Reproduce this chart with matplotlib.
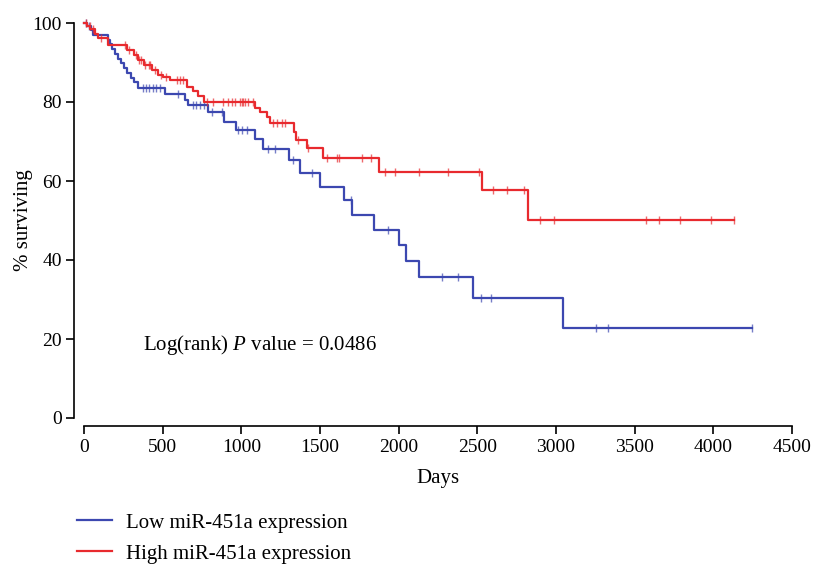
import numpy as np
import matplotlib.pyplot as plt

plt.rcParams['font.family'] = ['Liberation Serif', 'DejaVu Serif']
plt.rcParams['mathtext.fontset'] = 'custom'
plt.rcParams['mathtext.rm'] = 'Liberation Serif'
plt.rcParams['mathtext.it'] = 'Liberation Serif:italic'

# Kaplan-Meier steps: (day, % surviving after the drop)
low_times = [20, 45, 60, 150, 165, 180, 200, 215, 235, 255, 275, 300, 320, 345,
             515, 640, 660, 785, 890, 965, 1085, 1140, 1300, 1375, 1500, 1655,
             1705, 1843, 2002, 2047, 2130, 2473, 3045]
low_surv = [99.2, 98.3, 97.0, 95.8, 94.6, 93.4, 92.2, 91.0, 89.8, 88.6, 87.4, 86.2,
            85.0, 83.6, 82.0, 80.6, 79.2, 77.5, 75.0, 73.0, 70.6, 68.0, 65.2, 62.0,
            58.5, 55.2, 51.4, 47.6, 43.8, 39.7, 35.7, 30.4, 22.8]
low_censor = [15, 30, 375, 395, 415, 440, 460, 480, 597, 695, 715, 740, 765, 814,
              877, 979, 1004, 1036, 1170, 1214, 1330, 1450, 1697, 1930, 2275, 2377,
              2524, 2587, 3254, 3331, 4246]

high_times = [20, 40, 70, 90, 150, 275, 315, 345, 380, 435, 470, 500, 545, 655,
              690, 725, 760, 1087, 1119, 1163, 1182, 1335, 1348, 1417, 1519, 1875,
              2530, 2822]
high_surv = [99.2, 98.4, 97.2, 96.2, 94.5, 93.2, 91.9, 90.6, 89.4, 88.1, 86.9, 86.3,
             85.6, 83.8, 82.8, 81.5, 80.0, 78.5, 77.5, 76.2, 74.7, 72.4, 70.4, 68.4,
             65.8, 62.3, 57.7, 50.1]
high_censor = [10, 35, 55, 110, 260, 285, 330, 350, 360, 390, 410, 420, 450, 490,
               520, 591, 610, 629, 782, 820, 883, 915, 941, 960, 991, 1004, 1010,
               1023, 1042, 1074, 1202, 1227, 1258, 1277, 1360, 1424, 1545, 1608,
               1621, 1767, 1824, 1913, 1977, 2129, 2314, 2511, 2600, 2689, 2797,
               2898, 2987, 3572, 3655, 3788, 3985, 4131]

groups = [
    ("Low miR-451a expression", low_times, low_surv, low_censor, "#3c48b0"),
    ("High miR-451a expression", high_times, high_surv, high_censor, "#e82a2e"),
]

W, H = 818, 565
fig = plt.figure(figsize=(W / 100, H / 100), dpi=100)
ax = fig.add_axes([84 / W, (H - 418) / H, (792 - 84) / W, (418 - 23) / H])

handles = []
for label, times, surv, cens, color in groups:
    t = np.array([0] + times + [max(cens)], dtype=float)
    s = np.array([100] + surv + [surv[-1]], dtype=float)
    line, = ax.step(t, s, where='post', color=color, lw=1.6, label=label,
                    clip_on=False, zorder=3)
    handles.append(line)
    # censor marks sit on the curve value at their time
    idx = np.searchsorted(t, cens, side='right') - 1
    ax.plot(cens, s[idx], ls='none', marker='|', ms=5.5, mew=1.0, color=color,
            alpha=0.7, clip_on=False, zorder=3)

ax.set_xlim(0, 4500)
ax.set_ylim(0, 100)
ax.set_xticks(np.arange(0, 4501, 500))
ax.set_yticks(np.arange(0, 101, 20))
for side in ('top', 'right'):
    ax.spines[side].set_visible(False)
ax.spines['left'].set_position(('outward', 7))
ax.spines['bottom'].set_position(('outward', 6))
ax.spines['left'].set_linewidth(1.2)
ax.spines['bottom'].set_linewidth(1.2)
ax.tick_params(axis='both', direction='out', length=6, width=1.2,
               labelsize=14, pad=3)

ax.set_xlabel("Days", fontsize=15)
ax.xaxis.set_label_coords(0.5, -0.13)
ax.set_ylabel("% surviving", fontsize=15)
ax.yaxis.set_label_coords(-0.072, 0.5)
ax.text(375, 18.5, r"Log(rank) $P$ value = 0.0486",
        fontsize=15, va='center', ha='left')

fig.legend(handles=handles, loc='upper left', bbox_to_anchor=(77 / W, 1 - 513 / H),
           frameon=False, fontsize=15, handlelength=1.7, handletextpad=0.67,
           labelspacing=0.55, borderpad=0, borderaxespad=0)

fig.savefig("out.png", dpi=100)
